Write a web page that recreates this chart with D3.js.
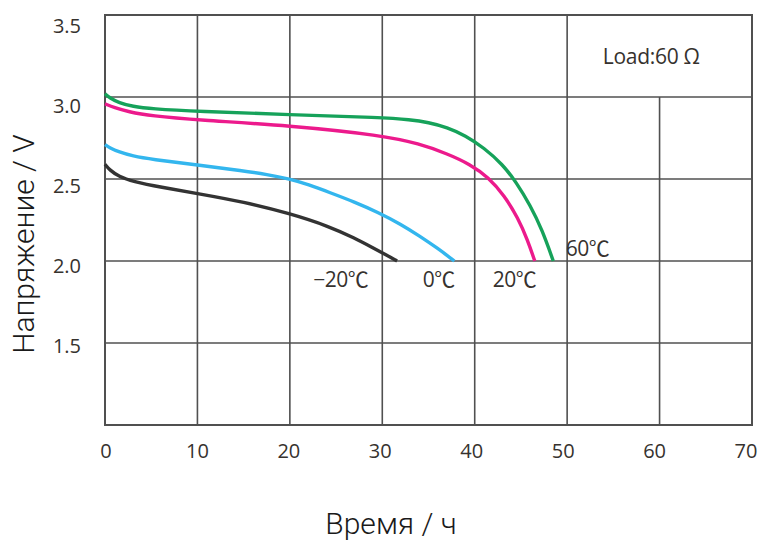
<!DOCTYPE html>
<html><head><meta charset="utf-8">
<script src="https://cdn.jsdelivr.net/npm/d3@7"></script>
<style>
html,body{margin:0;padding:0;background:#fff;}
svg{display:block;}
</style></head>
<body>
<svg id="chart" width="760" height="542"></svg>
<script>
// ---- data ----
const xTicks = [0, 10, 20, 30, 40, 50, 60, 70];
const yTicks = [1.5, 2.0, 2.5, 3.0, 3.5];
const yTickLabels = ["1.5", "2.0", "2.5", "3.0", "3.5"];

const t60 = [0, 0.5, 1.5, 3, 5, 10, 20, 30, 33, 35, 37, 39, 41, 43, 44.5, 46, 47.3, 48.5];
const v60 = [3.02, 2.995, 2.965, 2.942, 2.928, 2.912, 2.892, 2.875, 2.862, 2.845, 2.815, 2.765, 2.69, 2.59, 2.48, 2.34, 2.19, 2.0];

const t20 = [0, 1, 2.5, 5, 10, 20, 30, 34, 37, 39.5, 41.5, 43.2, 44.7, 45.7, 46.5];
const v20 = [2.958, 2.935, 2.91, 2.885, 2.86, 2.826, 2.766, 2.715, 2.655, 2.59, 2.51, 2.4, 2.26, 2.13, 2.0];

const t0 = [0, 0.5, 1.5, 3, 5, 10, 15, 17.5, 20, 22, 24.3, 27, 29.5, 32, 34.1, 36, 37.8];
const v0 = [2.71, 2.69, 2.665, 2.64, 2.62, 2.585, 2.55, 2.528, 2.5, 2.466, 2.418, 2.36, 2.298, 2.225, 2.15, 2.077, 2.0];

const tm20 = [0, 0.5, 1.5, 3, 6, 10, 15, 20, 24.3, 27, 29, 30.5, 31.6];
const vm20 = [2.59, 2.555, 2.515, 2.485, 2.45, 2.412, 2.36, 2.29, 2.21, 2.14, 2.08, 2.035, 2.0];

const seriesNames = ["60℃", "20℃", "0℃", "−20℃"];
const seriesColors = ["#16a25a", "#ec1a8c", "#33b6ee", "#333333"];
// label anchor positions (data coords)
const labelT = [52.2, 44.3, 36.1, 25.5];
const labelV = [2.03, 1.84, 1.84, 1.84];

const noteText = "Load:60 Ω";
const xTitle = "Время / ч";
const yTitle = "Напряжение / V";

// ---- drawing ----
const svg = d3.select("#chart");
const x = d3.scaleLinear().domain([0, 70]).range([105, 752]);
const y = d3.scaleLinear().domain([1.0, 3.5]).range([425, 15]);
const xLab = d3.scaleLinear().domain([0, 70]).range([106, 746]);
const yLab = d3.scaleLinear().domain([1.5, 3.5]).range([346, 25.5]);

const gridColor = "#505050";
const g = svg.append("g");

// horizontal grid
g.selectAll("line.h").data(yTicks.filter(v => v < 3.5)).join("line")
  .attr("x1", x(0)).attr("x2", x(70))
  .attr("y1", d => y(d)).attr("y2", d => y(d))
  .attr("stroke", gridColor).attr("stroke-width", 1.6);
// vertical grid
g.selectAll("line.v").data(xTicks.filter(v => v > 0 && v < 70)).join("line")
  .attr("x1", d => x(d)).attr("x2", d => x(d))
  .attr("y1", d => d === 60 ? y(3.0) : y(3.5)).attr("y2", y(1.0))
  .attr("stroke", gridColor).attr("stroke-width", 1.6);
// frame
g.append("rect").attr("x", x(0)).attr("y", y(3.5))
  .attr("width", x(70) - x(0)).attr("height", y(1.0) - y(3.5))
  .attr("fill", "none").attr("stroke", gridColor).attr("stroke-width", 2);

// tick labels
const tickFont = "'Open Sans', 'Noto Sans', sans-serif";
svg.selectAll("text.xt").data(xTicks).join("text")
  .attr("x", d => xLab(d)).attr("y", 458)
  .attr("text-anchor", "middle")
  .attr("font-family", tickFont).attr("font-size", 20).attr("font-weight", 500)
  .attr("fill", "#36322e").text(d => d);
svg.selectAll("text.yt").data(yTicks).join("text")
  .attr("x", 81).attr("y", d => yLab(d)).attr("dy", "0.36em")
  .attr("text-anchor", "end")
  .attr("font-family", tickFont).attr("font-size", 20).attr("font-weight", 500)
  .attr("fill", "#36322e").text((d, i) => yTickLabels[i]);

// curves
const series = [[t60, v60], [t20, v20], [t0, v0], [tm20, vm20]];
const line = d3.line().x(d => x(d[0])).y(d => y(d[1])).curve(d3.curveBasis);
series.forEach((s, i) => {
  const pts = s[0].map((t, j) => [t, s[1][j]]);
  svg.append("path").datum(pts).attr("d", line)
    .attr("fill", "none").attr("stroke", seriesColors[i])
    .attr("stroke-width", 3.4).attr("stroke-linecap", "butt");
});

// series labels
const labFont = "'Open Sans', 'Noto Sans CJK SC', sans-serif";
svg.selectAll("text.sl").data(seriesNames).join("text")
  .attr("x", (d, i) => x(labelT[i])).attr("y", (d, i) => y(labelV[i]))
  .attr("text-anchor", "middle")
  .attr("font-family", labFont).attr("font-size", 21)
  .attr("letter-spacing", -0.5)
  .attr("fill", "#36322e").text(d => d);

// note
svg.append("text").attr("x", x(59.1)).attr("y", y(3.2))
  .attr("text-anchor", "middle")
  .attr("font-family", labFont).attr("font-size", 21)
  .attr("letter-spacing", -0.3)
  .attr("fill", "#36322e").text(noteText);

// axis titles
svg.append("text").attr("x", 391).attr("y", 534)
  .attr("text-anchor", "middle")
  .attr("font-family", "Roboto, 'Noto Sans', sans-serif").attr("font-weight", 300)
  .attr("font-size", 30).attr("fill", "#1a1a1a").text(xTitle);
svg.append("text").attr("transform", "translate(34,244) rotate(-90)")
  .attr("text-anchor", "middle")
  .attr("font-family", "Roboto, 'Noto Sans', sans-serif").attr("font-weight", 300)
  .attr("font-size", 30).attr("fill", "#1a1a1a").text(yTitle);
</script>
</body></html>
